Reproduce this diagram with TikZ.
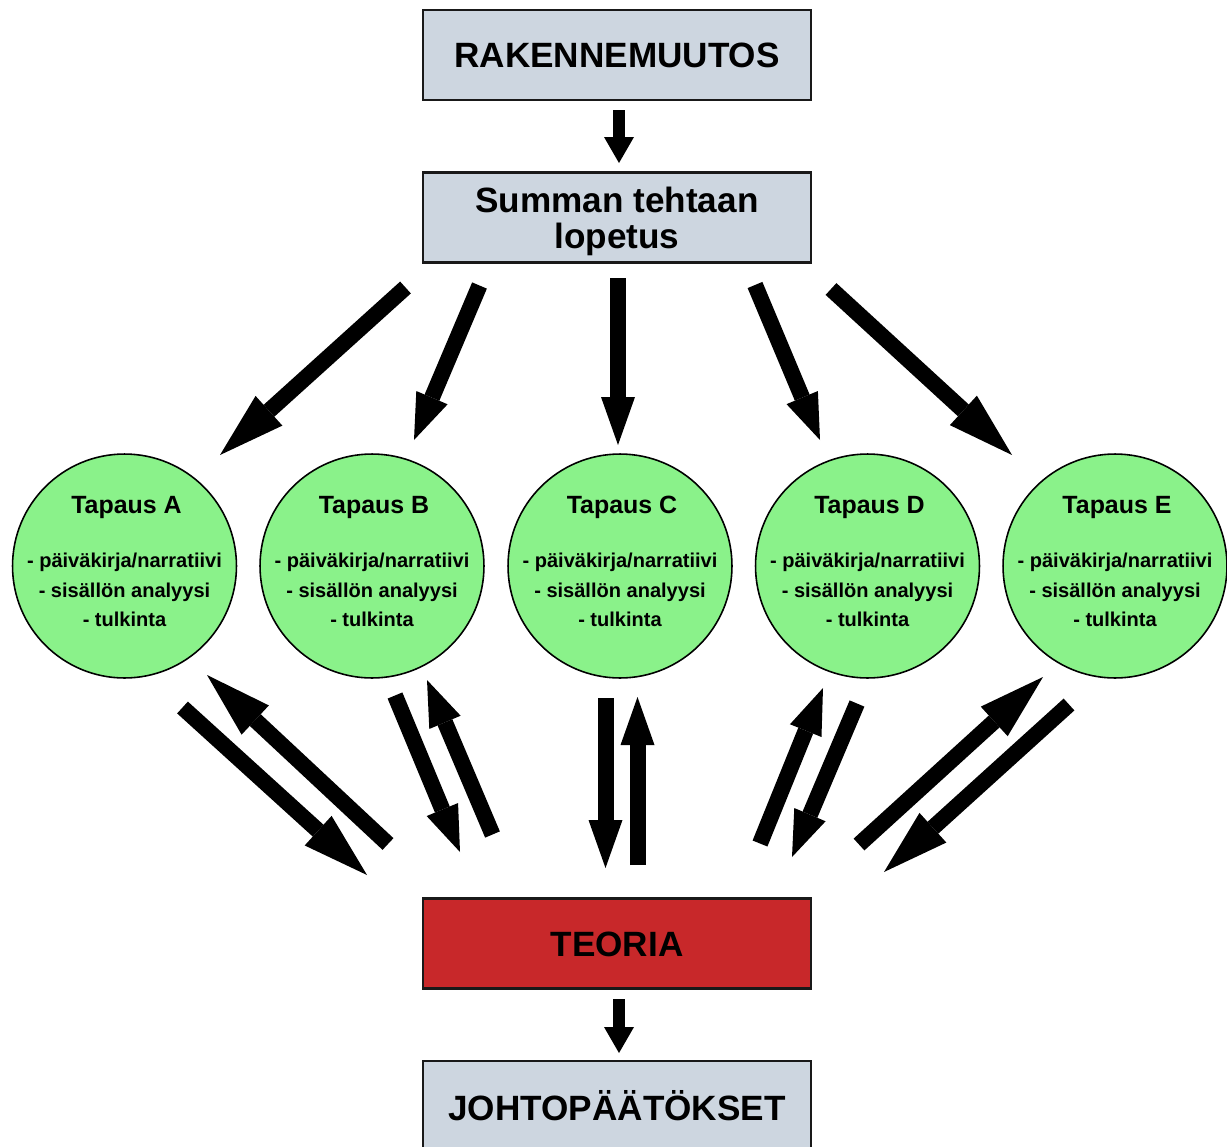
\documentclass[tikz,border=0pt]{standalone}
\usepackage{fontspec}
\setmainfont{Liberation Sans}
\usetikzlibrary{arrows.meta}
\definecolor{boxblue}{RGB}{205,214,224}
\definecolor{teored}{RGB}{200,40,42}
\definecolor{casegreen}{RGB}{138,242,138}
\newcommand\boxfont{\fontsize{20}{20.4}\selectfont\bfseries}
\newcommand\titlefont{\fontsize{14.2}{16}\selectfont\bfseries}
\newcommand\linefont{\fontsize{11.4}{13}\selectfont\bfseries}
\begin{document}
\begin{tikzpicture}[x=0.02cm,y=-0.02cm,
  box/.style={draw=black!90, line width=1.4pt, minimum width=7.76cm, minimum height=1.8cm,
    inner sep=0pt, font=\boxfont, text height=14.3pt, text depth=0pt},
  casecircle/.style={circle, draw=black, line width=0.9pt, fill=casegreen, minimum size=4.48cm, inner sep=0pt},
  casetitle/.style={font=\titlefont, inner sep=0pt, anchor=base},
  caseline/.style={font=\linefont, inner sep=0pt, anchor=base},
  fat/.style={line width=0.32cm, black},
  longhead/.style={fat, -{Triangle[length=1.32cm,width=0.8cm,line width=0pt]}},
  shorthead/.style={fat, -{Triangle[length=0.92cm,width=0.68cm,line width=0pt]}},
  midhead/.style={fat, -{Triangle[length=0.96cm,width=0.68cm,line width=0pt]}},
  smallarrow/.style={line width=0.24cm, black, -{Triangle[length=0.52cm,width=0.6cm,line width=0pt]}}
]
\useasboundingbox (0,0) rectangle (1227,1146);

% boxes
\node[box, fill=boxblue] (rak) at (617,55) {RAKENNEMUUTOS};
\node[box, fill=boxblue, text height=, text depth=] (sum) at (617,217.5) {};
\node[font=\boxfont, align=center, inner sep=0pt] (sumt) at (617,221) {Summan tehtaan\\lopetus};
\node[box, fill=teored] (teo) at (617,943.5) {TEORIA};
\node[box, fill=boxblue, minimum height=1.86cm] (joh) at (617,1107.5) {JOHTOPÄÄTÖKSET};

% small arrows
\coordinate (s1s) at (619,110); \coordinate (s1t) at (619,163);
\coordinate (s2s) at (619,999); \coordinate (s2t) at (619,1053);
\draw[smallarrow] (s1s) -- (s1t);
\draw[smallarrow] (s2s) -- (s2t);

% circles
\foreach \n/\x in {A/124.5, B/372, C/620, D/867.5, E/1115} {
  \node[casecircle] (c\n) at (\x,566) {};
  \node[casetitle] (t\n) at (\x+2,513) {Tapaus \n};
  \node[caseline] (l\n a) at (\x,567) {- päiväkirja/narratiivi};
  \node[caseline] (l\n b) at (\x,597) {- sisällön analyysi};
  \node[caseline] (l\n c) at (\x,626) {- tulkinta};
}

% fan arrows
\coordinate (f1s) at (405.5,287.5); \coordinate (f1t) at (220,455);
\coordinate (f2s) at (479.5,285.5); \coordinate (f2t) at (414,440);
\coordinate (f3s) at (618,278);     \coordinate (f3t) at (618,445);
\coordinate (f4s) at (755,285);     \coordinate (f4t) at (820,440);
\coordinate (f5s) at (831,289);     \coordinate (f5t) at (1012,455);
\draw[longhead]  (f1s) -- (f1t);
\draw[shorthead] (f2s) -- (f2t);
\draw[midhead]   (f3s) -- (f3t);
\draw[shorthead] (f4s) -- (f4t);
\draw[longhead]  (f5s) -- (f5t);

% bottom arrow pairs
\coordinate (aDs) at (182.5,707.5); \coordinate (aDt) at (367,875);
\coordinate (aUs) at (388,844);     \coordinate (aUt) at (207,675);
\coordinate (bDs) at (395,695.5);   \coordinate (bDt) at (460,852);
\coordinate (bUs) at (492.5,834.5); \coordinate (bUt) at (427,680);
\coordinate (cDs) at (605.5,698);   \coordinate (cDt) at (605.5,868);
\coordinate (cUs) at (637.5,865);   \coordinate (cUt) at (637.5,697);
\coordinate (dUs) at (760,843.5);   \coordinate (dUt) at (823,688);
\coordinate (dDs) at (857,703.5);   \coordinate (dDt) at (792,857);
\coordinate (eUs) at (859,844.5);   \coordinate (eUt) at (1043,677);
\coordinate (eDs) at (1069,704.5);  \coordinate (eDt) at (884,872);
\draw[longhead]  (aDs) -- (aDt);
\draw[longhead]  (aUs) -- (aUt);
\draw[shorthead] (bDs) -- (bDt);
\draw[shorthead] (bUs) -- (bUt);
\draw[midhead]   (cDs) -- (cDt);
\draw[midhead]   (cUs) -- (cUt);
\draw[shorthead] (dUs) -- (dUt);
\draw[shorthead] (dDs) -- (dDt);
\draw[longhead]  (eUs) -- (eUt);
\draw[longhead]  (eDs) -- (eDt);
\end{tikzpicture}
\end{document}
